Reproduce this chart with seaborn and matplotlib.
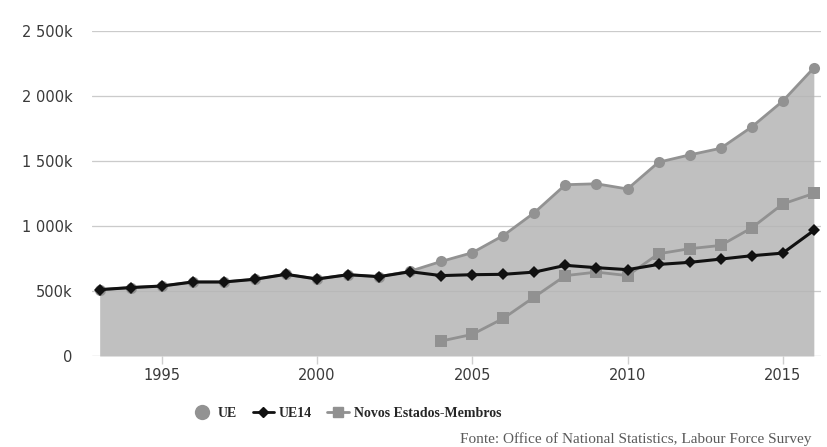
import matplotlib
matplotlib.use("Agg")
import matplotlib.pyplot as plt
from matplotlib.lines import Line2D
import numpy as np
import pandas as pd
import seaborn as sns

# data (thousands)
years = list(range(1993, 2017))
ue14 = [510, 526, 538, 569, 569, 590, 628, 592, 625, 610, 648,
        618, 625, 628, 645, 697, 679, 664, 704, 720, 745, 771, 791, 965]
ue = [510, 526, 538, 569, 569, 590, 628, 592, 625, 610, 652,
      727, 794, 926, 1102, 1317, 1324, 1284, 1490, 1546, 1597, 1761, 1960, 2215]
nem_years = list(range(2004, 2017))
nem = [115, 166, 289, 454, 618, 645, 618, 786, 825, 850, 985, 1169, 1250]

y_ticks = [0, 500, 1000, 1500, 2000, 2500]
y_labels = ["0", "500k", "1 000k", "1 500k", "2 000k", "2 500k"]
x_ticks = [1995, 2000, 2005, 2010, 2015]

fill_col = "#c0c0c0"
ue_col = "#929292"
nem_col = "#919191"
ue14_col = "#111111"

sns.set_theme(style="white")
plt.rcParams["font.family"] = ["DejaVu Sans"]

df_ue = pd.DataFrame({"ano": years, "valor": ue})
df_ue14 = pd.DataFrame({"ano": years, "valor": ue14})
df_nem = pd.DataFrame({"ano": nem_years, "valor": nem})

fig = plt.figure(figsize=(8.28, 4.47), dpi=100)
ax = fig.add_axes([0.111, 0.2036, 0.8805, 0.7274])

ax.fill_between(df_ue["ano"], 0, df_ue["valor"], color=fill_col, zorder=1, linewidth=0)
for yt in y_ticks:
    ax.axhline(yt, color="#e2e2e2" if yt else "#cfcfcf", lw=1, zorder=0.5)
    if yt:
        ax.axhline(yt, color="#b0b0b0", lw=0.8, alpha=0.45, zorder=1.5)

sns.lineplot(data=df_ue, x="ano", y="valor", ax=ax, color=ue_col, lw=2,
             marker="o", markersize=8, markeredgewidth=0, zorder=3)
sns.lineplot(data=df_nem, x="ano", y="valor", ax=ax, color=nem_col, lw=2,
             marker="s", markersize=8, markeredgewidth=0, zorder=4)
sns.lineplot(data=df_ue14, x="ano", y="valor", ax=ax, color=ue14_col, lw=2.2,
             marker="D", markersize=6.5, markeredgewidth=0, zorder=5)

ax.set_xlim(1992.75, 2016.23)
ax.set_ylim(0, 2500)
ax.set_yticks(y_ticks)
ax.set_yticklabels(y_labels)
ax.set_xticks(x_ticks)
ax.set_xticklabels([str(x) for x in x_ticks])
ax.set_xlabel("")
ax.set_ylabel("")
for s in ax.spines.values():
    s.set_visible(False)
ax.tick_params(axis="y", length=0, pad=14, labelsize=10.5, labelcolor="#3a3a3a")
ax.tick_params(axis="x", length=6, width=1, color="#cfcfcf", direction="out",
               pad=3, labelsize=10.5, labelcolor="#3a3a3a", bottom=True)
ax.grid(False)

handles = [
    Line2D([], [], color=ue_col, marker="o", markersize=11, lw=0, markeredgewidth=0),
    Line2D([], [], color=ue14_col, marker="D", markersize=5.5, lw=2),
    Line2D([], [], color=nem_col, marker="s", markersize=6.5, lw=2),
]
fig.legend(handles, ["UE", "UE14", "Novos Estados-Membros"], loc="center",
           bbox_to_anchor=(0.4185, 0.076), ncol=3, frameon=False,
           prop={"family": "Liberation Serif", "weight": "bold", "size": 10},
           handlelength=1.55, handletextpad=0.35, columnspacing=1.1)

fig.text(0.555, 0.018, "Fonte: Office of National Statistics, Labour Force Survey",
         family="Liberation Serif", fontsize=11, color="#5a5a5a", ha="left", va="center")

fig.savefig("out.png", dpi=100, facecolor="white")
